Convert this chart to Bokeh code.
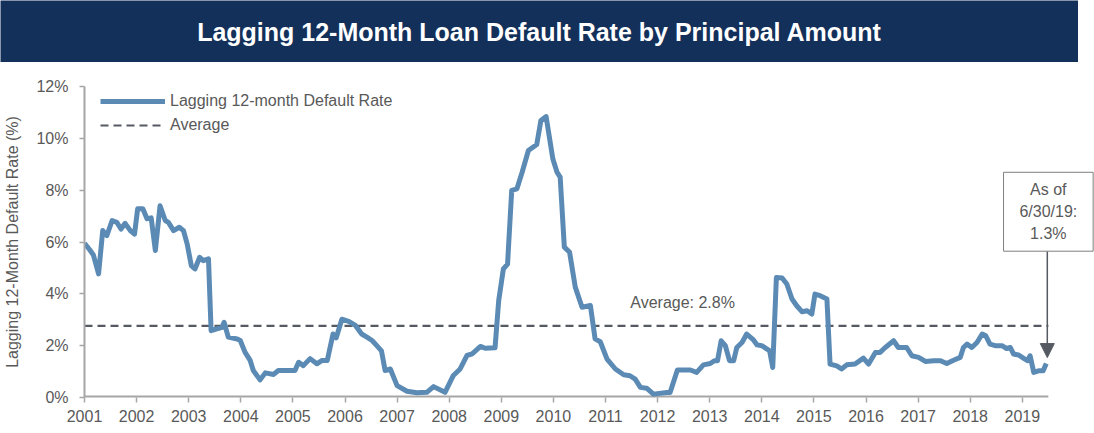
from bokeh.plotting import figure
from bokeh.models import (Range1d, FixedTicker, PrintfTickFormatter, Legend, LegendItem,
                          Label, Arrow, NormalHead, ColumnDataSource, BoxAnnotation)
from bokeh.layouts import column, row
from bokeh.core.properties import value
from bokeh.embed import file_html
from bokeh.resources import INLINE

# ---------------- data ----------------
dates = [2001.00, 2001.10, 2001.17, 2001.27, 2001.35, 2001.43, 2001.53, 2001.62, 2001.70, 2001.78,
         2001.88, 2001.96, 2002.02, 2002.12, 2002.20, 2002.28, 2002.36, 2002.45, 2002.55, 2002.61,
         2002.71, 2002.82, 2002.90, 2002.97, 2003.05, 2003.12, 2003.21, 2003.28, 2003.38, 2003.43,
         2003.54, 2003.64, 2003.68, 2003.76, 2003.93, 2003.99, 2004.08, 2004.18, 2004.24, 2004.37,
         2004.47, 2004.63, 2004.72, 2005.04, 2005.11, 2005.20, 2005.33, 2005.46, 2005.56, 2005.66,
         2005.77, 2005.83, 2005.94, 2006.07, 2006.20, 2006.32, 2006.42, 2006.52, 2006.61, 2006.70,
         2006.77, 2006.87, 2007.00, 2007.19, 2007.38, 2007.57, 2007.70, 2007.92, 2008.08, 2008.21,
         2008.34, 2008.44, 2008.60, 2008.69, 2008.88, 2008.95, 2009.04, 2009.12, 2009.20, 2009.30,
         2009.40, 2009.52, 2009.68, 2009.76, 2009.86, 2009.99, 2010.07, 2010.13, 2010.21, 2010.31,
         2010.42, 2010.55, 2010.71, 2010.80, 2010.90, 2011.03, 2011.19, 2011.35, 2011.47, 2011.57,
         2011.67, 2011.79, 2011.92, 2012.18, 2012.24, 2012.38, 2012.63, 2012.75, 2012.88, 2013.01,
         2013.09, 2013.15, 2013.22, 2013.30, 2013.38, 2013.46, 2013.52, 2013.62, 2013.71, 2013.84,
         2013.91, 2014.00, 2014.10, 2014.15, 2014.21, 2014.28, 2014.39, 2014.48, 2014.58, 2014.67,
         2014.77, 2014.87, 2014.96, 2015.02, 2015.12, 2015.25, 2015.31, 2015.44, 2015.53, 2015.63,
         2015.79, 2015.95, 2016.05, 2016.18, 2016.27, 2016.37, 2016.53, 2016.62, 2016.78, 2016.88,
         2017.01, 2017.14, 2017.30, 2017.43, 2017.55, 2017.68, 2017.81, 2017.87, 2017.94, 2018.03,
         2018.13, 2018.23, 2018.30, 2018.38, 2018.48, 2018.61, 2018.70, 2018.77, 2018.83, 2018.93,
         2019.02, 2019.10, 2019.15, 2019.22, 2019.31, 2019.40, 2019.46]

default_rate = [5.95, 5.70, 5.50, 4.77, 6.44, 6.25, 6.83, 6.76, 6.50, 6.72,
                6.44, 6.30, 7.28, 7.28, 6.90, 6.93, 5.67, 7.40, 6.83, 6.76,
                6.44, 6.57, 6.44, 5.93, 5.09, 4.96, 5.41, 5.28, 5.35, 2.58,
                2.65, 2.71, 2.90, 2.33, 2.26, 2.20, 1.75, 1.43, 1.04, 0.68,
                0.95, 0.89, 1.04, 1.04, 1.36, 1.23, 1.50, 1.30, 1.43, 1.43,
                2.45, 2.30, 3.02, 2.94, 2.78, 2.45, 2.33, 2.20, 2.00, 1.80,
                1.04, 1.10, 0.46, 0.24, 0.18, 0.20, 0.42, 0.20, 0.85, 1.10,
                1.62, 1.68, 1.97, 1.90, 1.92, 3.74, 4.96, 5.15, 7.99, 8.05,
                8.69, 9.53, 9.76, 10.69, 10.84, 9.20, 8.69, 8.50, 5.80, 5.61,
                4.26, 3.48, 3.55, 2.26, 2.15, 1.48, 1.10, 0.88, 0.84, 0.71,
                0.39, 0.36, 0.13, 0.19, 0.19, 1.06, 1.06, 0.97, 1.26, 1.31,
                1.42, 1.42, 2.19, 2.00, 1.42, 1.42, 1.93, 2.12, 2.45, 2.22,
                2.03, 2.00, 1.87, 1.80, 1.16, 4.63, 4.61, 4.38, 3.80, 3.54,
                3.31, 3.35, 3.22, 3.99, 3.93, 3.80, 1.29, 1.22, 1.10, 1.26,
                1.29, 1.52, 1.29, 1.74, 1.74, 1.93, 2.19, 1.93, 1.93, 1.61,
                1.55, 1.39, 1.42, 1.42, 1.31, 1.44, 1.55, 1.93, 2.06, 1.93,
                2.12, 2.45, 2.38, 2.06, 2.00, 2.00, 1.89, 1.93, 1.68, 1.64,
                1.52, 1.42, 1.61, 0.97, 1.03, 1.03, 1.31]

average_rate = 2.76
axis_span = [2001.0, 2019.5]          # years covered by the x axis
year_ticks = list(range(2001, 2020))
pct_ticks = [0, 2, 4, 6, 8, 10, 12]

title_text = "Lagging 12-Month Loan Default Rate by Principal Amount"
series_label = "Lagging 12-month Default Rate"
average_label = "Average"
average_note = "Average: 2.8%"
asof_note = "As of\n6/30/19:\n1.3%"
y_title = "Lagging 12-Month Default Rate (%)"

FONT = "Liberation Sans"
GRAY = "#595959"
DARK = "#555a62"
AXIS_GRAY = "#a6a6a6"
NAVY = "#13305a"
BLUE = "#5b8bb5"

W = 1094
LEFT = 84
BAND_W = 1078

# ---------------- title band ----------------
tb = figure(width=BAND_W, height=62, output_backend="svg", toolbar_location=None,
            x_range=Range1d(0, BAND_W), y_range=Range1d(0, 62),
            x_axis_location=None, y_axis_location=None,
            min_border=0, background_fill_color=NAVY, border_fill_color=NAVY)
tb.outline_line_color = None
tb.grid.visible = False
tb.text(x=[BAND_W / 2], y=[31], text=[title_text], text_color="white",
        text_font=value(FONT), text_font_style="bold", text_font_size="25px",
        text_align="center", text_baseline="middle")

# ---------------- chart ----------------
x_end = 2001 + (W - LEFT) / 52.1
p = figure(width=W, height=371, output_backend="svg", toolbar_location=None,
           x_range=Range1d(2001, x_end), y_range=Range1d(0, 12),
           min_border_left=LEFT, min_border_right=0, min_border_top=24, min_border_bottom=36,
           background_fill_color="white", border_fill_color="white")
p.outline_line_color = None
p.grid.visible = False

src = ColumnDataSource(dict(x=dates, y=default_rate))
avg_src = ColumnDataSource(dict(x=axis_span, y=[average_rate, average_rate]))
base_src = ColumnDataSource(dict(x=axis_span, y=[0, 0]))

p.line("x", "y", source=base_src, line_color=AXIS_GRAY, line_width=4)
r_avg = p.line("x", "y", source=avg_src, line_color=DARK, line_width=2.2, line_dash="8 5")
r_line = p.line("x", "y", source=src, line_color=BLUE, line_width=5, line_join="round")

for ax in (p.xaxis[0], p.yaxis[0]):
    ax.axis_line_color = AXIS_GRAY
    ax.axis_line_width = 2
    ax.major_tick_line_color = AXIS_GRAY
    ax.major_tick_line_width = 1.5
    ax.major_tick_out = 5
    ax.major_tick_in = 0
    ax.minor_tick_line_color = None
    ax.major_label_text_color = GRAY
    ax.major_label_text_font = FONT
    ax.major_label_text_font_size = "16px"

p.xaxis.axis_line_color = None
p.xaxis.ticker = FixedTicker(ticks=year_ticks)
p.xaxis.formatter = PrintfTickFormatter(format="%d")
p.xaxis.major_label_standoff = 7

p.yaxis.ticker = FixedTicker(ticks=pct_ticks)
p.yaxis.formatter = PrintfTickFormatter(format="%d%%")
p.yaxis.major_label_standoff = 11
p.yaxis.axis_label = y_title
p.yaxis.axis_label_text_font = FONT
p.yaxis.axis_label_text_font_size = "16px"
p.yaxis.axis_label_text_font_style = "normal"
p.yaxis.axis_label_text_color = GRAY
p.yaxis.axis_label_standoff = 12

legend = Legend(items=[LegendItem(label=series_label, renderers=[r_line]),
                       LegendItem(label=average_label, renderers=[r_avg])],
                location=(16, 262), padding=0, margin=0, spacing=4,
                glyph_width=65, glyph_height=20, label_height=20, label_standoff=5,
                label_text_font=FONT, label_text_font_size="16px", label_text_color=GRAY,
                border_line_color=None, background_fill_alpha=0)
p.add_layout(legend, "center")

p.add_layout(Label(x=2012.48, y=3.65, text=average_note, text_align="center",
                   text_baseline="middle", text_font=FONT, text_font_size="16px",
                   text_color=GRAY))

p.add_layout(Arrow(end=NormalHead(size=14, fill_color=DARK, line_color=DARK),
                   x_start=2019.48, y_start=5.645, x_end=2019.48, y_end=1.54,
                   line_color=DARK, line_width=1.5))

p.add_layout(BoxAnnotation(left=2018.64, right=2020.36, bottom=5.645, top=8.69,
                           fill_color="white", fill_alpha=1.0,
                           line_color="#7f7f7f", line_width=1, line_alpha=1.0))
p.add_layout(Label(x=2019.50, y=7.17, text=asof_note, text_align="center",
                   text_baseline="middle", text_font=FONT, text_font_size="16px",
                   text_color=GRAY, text_line_height=1.3))

layout = column(row(tb), p, spacing=0)
open("out.html", "w").write(file_html(layout, INLINE))
